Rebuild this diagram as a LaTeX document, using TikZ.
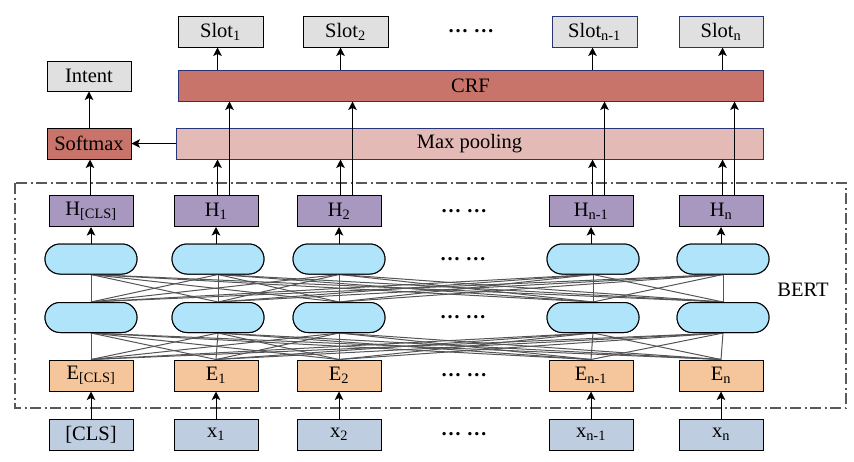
\documentclass[tikz,border=0pt]{standalone}
\usepackage{fontspec}
\setmainfont{Liberation Serif}
\usetikzlibrary{arrows.meta,calc}
\definecolor{slotgray}{RGB}{224,224,224}
\definecolor{crfred}{RGB}{200,116,106}
\definecolor{poolpink}{RGB}{228,186,183}
\definecolor{hpurple}{RGB}{168,152,192}
\definecolor{ellblue}{RGB}{176,228,250}
\definecolor{eorange}{RGB}{245,198,156}
\definecolor{xblue}{RGB}{190,206,224}
\definecolor{navy}{RGB}{40,52,120}
\definecolor{meshgray}{RGB}{85,85,85}
\begin{document}
\begin{tikzpicture}[x=1pt,y=-1pt,
  font=\fontsize{20.5}{24}\selectfont,
  box/.style={draw=black,line width=1pt,minimum width=84pt,minimum height=31pt,inner sep=0pt,anchor=center},
  slotbox/.style={box,fill=slotgray},
  hbox/.style={box,fill=hpurple},
  ebox/.style={box,fill=eorange},
  xbox/.style={box,fill=xblue},
  ell/.style={draw=black,line width=1pt,fill=ellblue,rounded corners=15pt,minimum width=92pt,minimum height=30pt,inner sep=0pt},
  arr/.style={line width=1pt,-{Stealth[length=8.5pt,width=8.5pt,inset=2pt]}},
  mesh/.style={draw=meshgray,line width=1pt},
  dotsnode/.style={inner sep=0pt,font=\fontsize{20.5}{24}\selectfont\bfseries}]
\useasboundingbox (0,0) rectangle (854,461);

% BERT frame
\draw[line width=1.2pt,draw=black!65,dash pattern=on 11pt off 3.5pt on 2pt off 3.5pt] (15,183) rectangle (846,408);
\node (bert) at (803,290) {BERT};

% inputs
\node[xbox] (X0) at (91,434.5) {[CLS]};
\node[xbox] (X1) at (216,434.5) {x\textsubscript{1}};
\node[xbox] (X2) at (339,434.5) {x\textsubscript{2}};
\node[xbox] (X3) at (591,434.5) {x\textsubscript{n-1}};
\node[xbox] (X4) at (721,434.5) {x\textsubscript{n}};
\node[dotsnode] (xd) at (464,434.5) {… …};

% embeddings
\node[ebox] (E0) at (91,375.5) {E\textsubscript{[CLS]}};
\node[ebox] (E1) at (216,375.5) {E\textsubscript{1}};
\node[ebox] (E2) at (339,375.5) {E\textsubscript{2}};
\node[ebox] (E3) at (591,375.5) {E\textsubscript{n-1}};
\node[ebox] (E4) at (721,375.5) {E\textsubscript{n}};
\node[dotsnode] (ed) at (464,375.5) {… …};

% transformer layers
\foreach \i/\c in {0/91,1/218,2/339,3/593,4/723}{
  \node[ell] (B\i) at (\c,317.5) {};
  \node[ell] (T\i) at (\c,259) {};
}
\node[dotsnode] (bd) at (463,317.5) {… …};
\node[dotsnode] (td) at (463,259) {… …};

% mesh
\foreach \i in {0,...,4}{
  \foreach \j in {0,...,4}{
    \draw[mesh] (T\i.south) -- (B\j.north);
    \draw[mesh] (B\i.south) -- (E\j.north);
  }
}
% redraw boxes over mesh ends
\foreach \i/\c in {0/91,1/218,2/339,3/593,4/723}{
  \node[ell] at (\c,317.5) {};
  \node[ell] at (\c,259) {};
}
\node[ebox] at (E0) {E\textsubscript{[CLS]}};
\node[ebox] at (E1) {E\textsubscript{1}};
\node[ebox] at (E2) {E\textsubscript{2}};
\node[ebox] at (E3) {E\textsubscript{n-1}};
\node[ebox] at (E4) {E\textsubscript{n}};

% hidden
\node[hbox] (H0) at (91,211) {H\textsubscript{[CLS]}};
\node[hbox] (H1) at (216,211) {H\textsubscript{1}};
\node[hbox] (H2) at (339,211) {H\textsubscript{2}};
\node[hbox] (H3) at (591,211) {H\textsubscript{n-1}};
\node[hbox] (H4) at (721,211) {H\textsubscript{n}};
\node[dotsnode] (hd) at (464,211) {… …};

% pooling, crf, softmax, intent
\node[box,draw=navy,fill=poolpink,minimum width=587pt] (mp) at (469.5,143.5) {Max pooling};
\node[box,draw=navy,fill=crfred,minimum width=585pt] (crf) at (470.5,85.5) {CRF};
\node[box,fill=crfred] (sm) at (89,143.5) {Softmax};
\node[slotbox,minimum height=30pt] (intent) at (89,76) {Intent};

% slots
\node[slotbox,minimum width=85pt] (S1) at (220.5,31.5) {Slot\textsubscript{1}};
\node[slotbox,minimum width=85pt] (S2) at (345.5,31.5) {Slot\textsubscript{2}};
\node[slotbox,draw=navy,minimum width=85pt] (S3) at (594.5,31.5) {Slot\textsubscript{n-1}};
\node[slotbox,draw=navy,minimum width=84pt] (S4) at (721,31.5) {Slot\textsubscript{n}};
\node[dotsnode] (sd) at (471,31.5) {… …};

% arrows: input -> embedding, top layer -> hidden
\foreach \i in {0,...,4}{
  \draw[arr] (X\i.north) -- (E\i.south);
  \draw[arr] (T\i.north -| H\i.south) -- (H\i.south);
}

% hidden -> pooling / crf, crf -> slots
\draw[arr] ([xshift=-1pt]H0.north) -- ([xshift=-1pt]H0.north |- sm.south);
\foreach \i/\s in {1/S1,2/S2,3/S3,4/S4}{
  \coordinate (a\i) at ([xshift=1.5pt]H\i.north);
  \coordinate (b\i) at ([xshift=13.5pt]H\i.north);
  \draw[arr] (a\i) -- (a\i |- mp.south);
  \draw[arr] (b\i) -- (b\i |- crf.south);
  \draw[arr] (a\i |- crf.north) -- (a\i |- \s.south);
}
\draw[arr] (mp.west) -- (sm.east);
\draw[arr] (sm.north) -- (intent.south);
\end{tikzpicture}
\end{document}
